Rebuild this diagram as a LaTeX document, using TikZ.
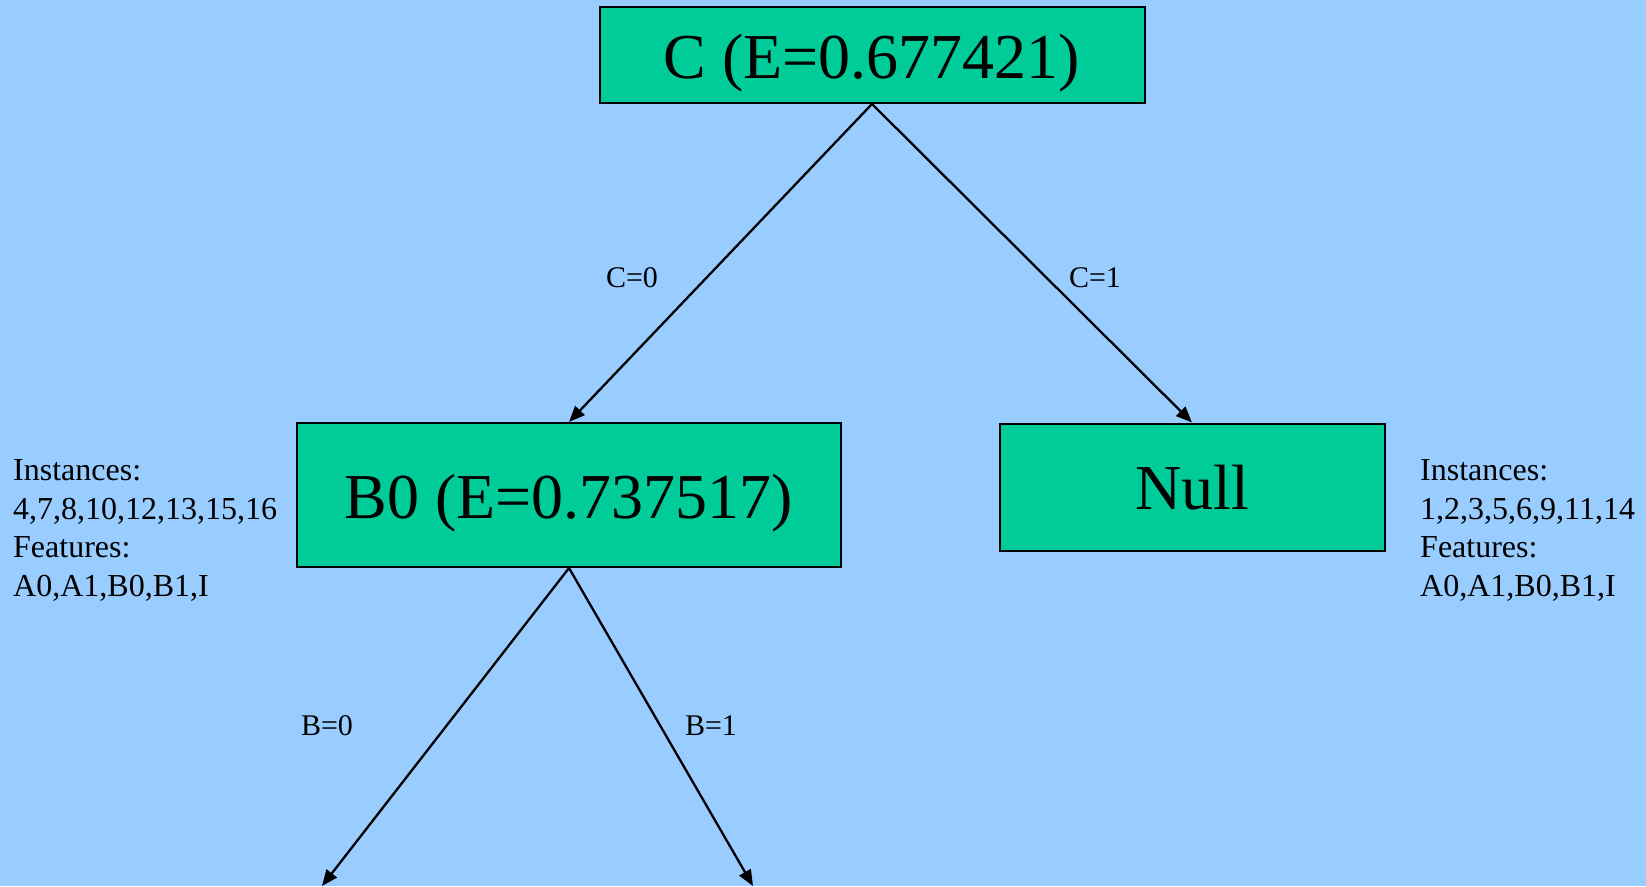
\documentclass[tikz,border=0pt]{standalone}
\usepackage{fontspec}
\setmainfont{Liberation Serif}
\usetikzlibrary{arrows.meta}
\definecolor{bgblue}{HTML}{99CCFF}
\definecolor{boxgreen}{HTML}{00CC99}
\begin{document}
\begin{tikzpicture}[x=1pt,y=-1pt,
  treebox/.style={draw=black,line width=2pt,fill=boxgreen,inner sep=0pt,
    text depth=0pt,font=\fontsize{64}{74}\selectfont},
  conn/.style={line width=2.3pt,-{Triangle[length=16pt,width=13pt]}},
  edgelabel/.style={inner sep=0pt,font=\fontsize{30}{36}\selectfont},
  sidetext/.style={inner sep=0pt,align=left,anchor=base west,
    font=\fontsize{32}{38.5}\selectfont}]
\fill[bgblue] (0,0) rectangle (1646,886);
\useasboundingbox (0,0) rectangle (1646,886);
\node[treebox,minimum width=545pt,minimum height=96pt] (top) at (872,55) {\raisebox{-3pt}{C (E=0.677421)}};
\node[treebox,minimum width=544pt,minimum height=144pt] (b0) at (569,495) {\raisebox{-3pt}{B0 (E=0.737517)}};
\node[treebox,minimum width=385pt,minimum height=127pt] (null) at (1192,487) {Null};
\coordinate (l0) at (322,886);
\coordinate (l1) at (753,886);
\draw[conn] (top.south) -- (b0.north);
\draw[conn] (top.south) -- (null.north);
\draw[conn] (b0.south) -- (l0);
\draw[conn] (b0.south) -- (l1);
\node[edgelabel] (c0) at (632,278) {C=0};
\node[edgelabel] (c1) at (1095,278) {C=1};
\node[edgelabel] (bz) at (327,726) {B=0};
\node[edgelabel] (bo) at (711,726) {B=1};
\node[sidetext] (linfo) at (13,596) {Instances:\\4,7,8,10,12,13,15,16\\Features:\\A0,A1,B0,B1,I};
\node[sidetext] (rinfo) at (1420,596) {Instances:\\1,2,3,5,6,9,11,14\\Features:\\A0,A1,B0,B1,I};
\end{tikzpicture}
\end{document}
